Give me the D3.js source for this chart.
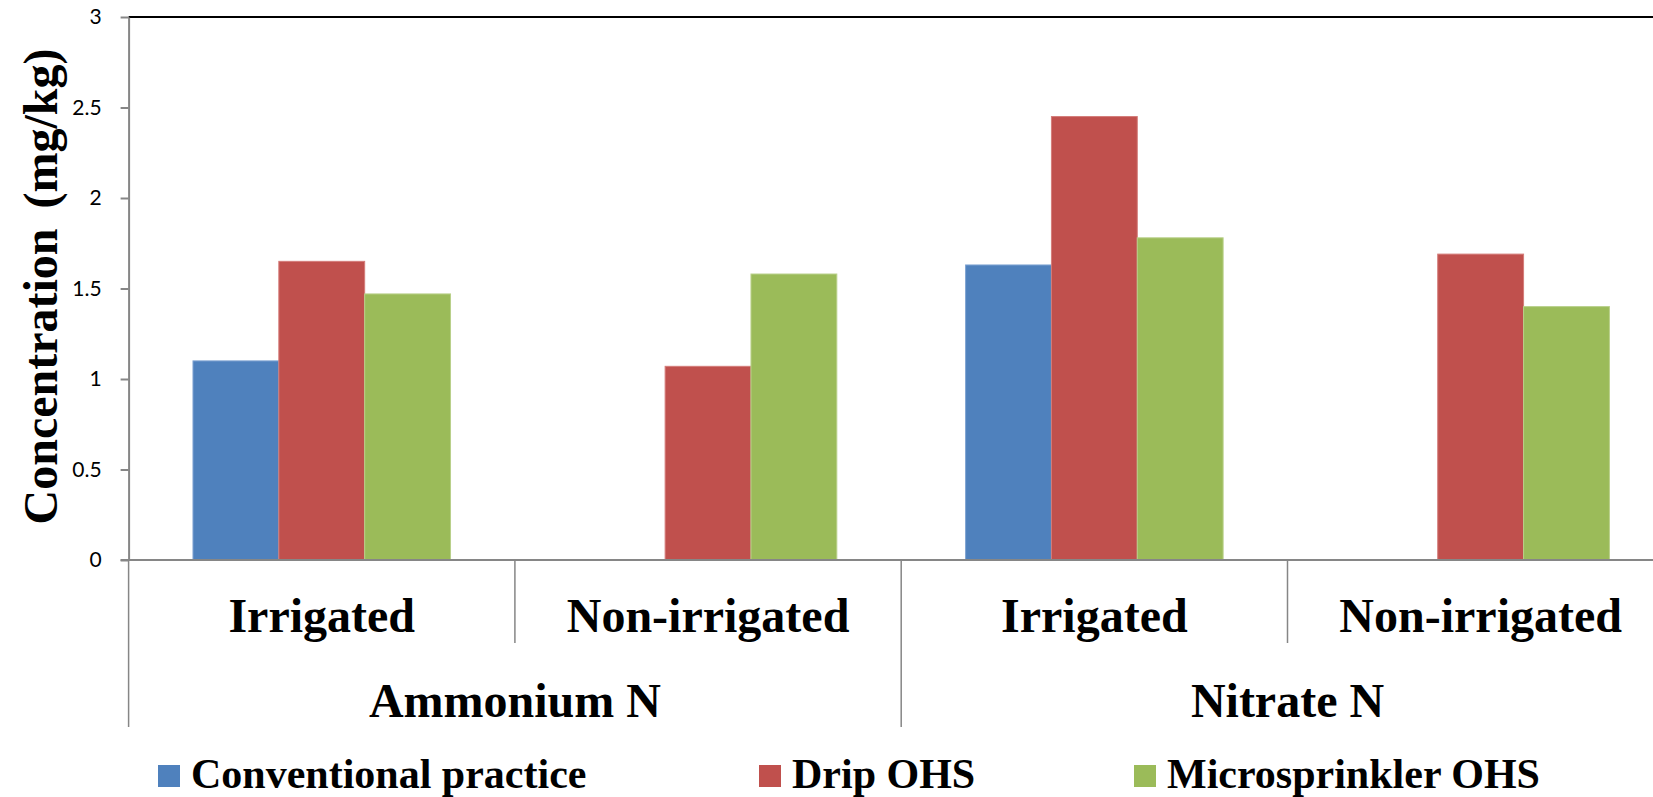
<!DOCTYPE html>
<html>
<head>
<meta charset="utf-8">
<script src="https://cdn.jsdelivr.net/npm/d3@7"></script>
<style>
  html, body { margin: 0; padding: 0; background: #fff; overflow: hidden; }
  svg { display: block; }
</style>
</head>
<body>
<svg id="chart" width="1653" height="797"></svg>
<script>
// Soil mineral N concentration by treatment
const subCategories = ["Irrigated", "Non-irrigated", "Irrigated", "Non-irrigated"];
const groupLabels = ["Ammonium N", "Nitrate N"];
const seriesNames = ["Conventional practice", "Drip OHS", "Microsprinkler OHS"];
const conventional = [1.10, null, 1.63, null];
const drip = [1.65, 1.07, 2.45, 1.69];
const microsprinkler = [1.47, 1.58, 1.78, 1.40];
const yTicks = [0, 0.5, 1, 1.5, 2, 2.5, 3];
const colors = ["#4F81BD", "#C0504D", "#9BBB59"];
const edgeColors = ["#7FA3D2", "#D47C79", "#B9D08A"];

const seriesValues = [conventional, drip, microsprinkler];

const svg = d3.select("#chart");
const plotLeft = 128.6, plotRight = 1673.8, plotTop = 17, plotBottom = 560;

const x0 = d3.scaleBand()
  .domain(d3.range(subCategories.length))
  .range([plotLeft, plotRight])
  .paddingInner(0).paddingOuter(0);

const x1 = d3.scaleBand()
  .domain(d3.range(seriesNames.length))
  .range([0, x0.bandwidth()])
  .paddingInner(0).paddingOuter(0.75);

const y = d3.scaleLinear().domain([0, 3]).range([plotBottom, plotTop]);

const serif = "'Liberation Serif', 'Times New Roman', serif";

// bars
const catG = svg.append("g").selectAll("g")
  .data(subCategories.map((c, i) => i))
  .join("g")
  .attr("transform", i => `translate(${x0(i)},0)`);

catG.selectAll("rect")
  .data(i => seriesValues.map((vals, s) => ({ s, v: vals[i] })).filter(d => d.v != null))
  .join("rect")
  .attr("x", d => x1(d.s))
  .attr("width", x1.bandwidth())
  .attr("y", d => y(d.v))
  .attr("height", d => y(0) - y(d.v))
  .attr("fill", d => colors[d.s])
  .attr("stroke", d => edgeColors[d.s])
  .attr("stroke-width", 1);

// top border of the plot area
svg.append("line")
  .attr("x1", plotLeft).attr("x2", 1653)
  .attr("y1", plotTop).attr("y2", plotTop)
  .attr("stroke", "#000").attr("stroke-width", 2);

// y axis
const yAxis = d3.axisLeft(y)
  .tickValues(yTicks)
  .tickFormat(d => String(d))
  .tickSize(8)
  .tickSizeOuter(0)
  .tickPadding(19);

const yg = svg.append("g")
  .attr("transform", `translate(${plotLeft},0)`)
  .call(yAxis);
yg.select(".domain").attr("stroke", "#868686").attr("stroke-width", 2);
yg.selectAll(".tick line").attr("stroke", "#868686").attr("stroke-width", 2);
yg.selectAll(".tick text")
  .attr("fill", "#000")
  .style("font-family", "Lato, 'Open Sans', sans-serif")
  .style("font-size", "21px");

// category axis baseline
svg.append("line")
  .attr("x1", plotLeft - 8).attr("x2", 1653)
  .attr("y1", y(0)).attr("y2", y(0))
  .attr("stroke", "#868686").attr("stroke-width", 2);

// category separators: short between sub-categories, long between groups
const boundaries = d3.range(subCategories.length + 1);
svg.append("g").selectAll("line")
  .data(boundaries)
  .join("line")
  .attr("x1", i => i < subCategories.length ? x0(i) : plotRight)
  .attr("x2", i => i < subCategories.length ? x0(i) : plotRight)
  .attr("y1", y(0))
  .attr("y2", i => (i % 2 === 0) ? 727 : 643)
  .attr("stroke", "#868686")
  .attr("stroke-width", 1.5);

// sub-category labels
svg.append("g").selectAll("text")
  .data(subCategories)
  .join("text")
  .attr("x", (d, i) => x0(i) + x0.bandwidth() / 2)
  .attr("y", 632)
  .attr("text-anchor", "middle")
  .style("font-family", serif)
  .style("font-weight", "bold")
  .style("font-size", "48px")
  .text(d => d);

// group labels
svg.append("g").selectAll("text")
  .data(groupLabels)
  .join("text")
  .attr("x", (d, i) => x0(i * 2) + x0.bandwidth())
  .attr("y", 717)
  .attr("text-anchor", "middle")
  .style("font-family", serif)
  .style("font-weight", "bold")
  .style("font-size", "48px")
  .text(d => d);

// y axis title
svg.append("text")
  .attr("transform", `translate(57, ${(plotTop + plotBottom) / 2 - 2}) rotate(-90)`)
  .attr("text-anchor", "middle")
  .style("font-family", serif)
  .style("font-weight", "bold")
  .style("font-size", "48px")
  .style("word-spacing", "8px")
  .text("Concentration (mg/kg)");

// legend
const legendX = [158, 759, 1134];
const legend = svg.append("g").selectAll("g")
  .data(seriesNames)
  .join("g")
  .attr("transform", (d, i) => `translate(${legendX[i]},0)`);
legend.append("rect")
  .attr("x", 0).attr("y", 765)
  .attr("width", 22).attr("height", 22)
  .attr("fill", (d, i) => colors[i]);
legend.append("text")
  .attr("x", 33).attr("y", 788)
  .style("font-family", serif)
  .style("font-weight", "bold")
  .style("font-size", "42px")
  .text(d => d);
</script>
</body>
</html>
